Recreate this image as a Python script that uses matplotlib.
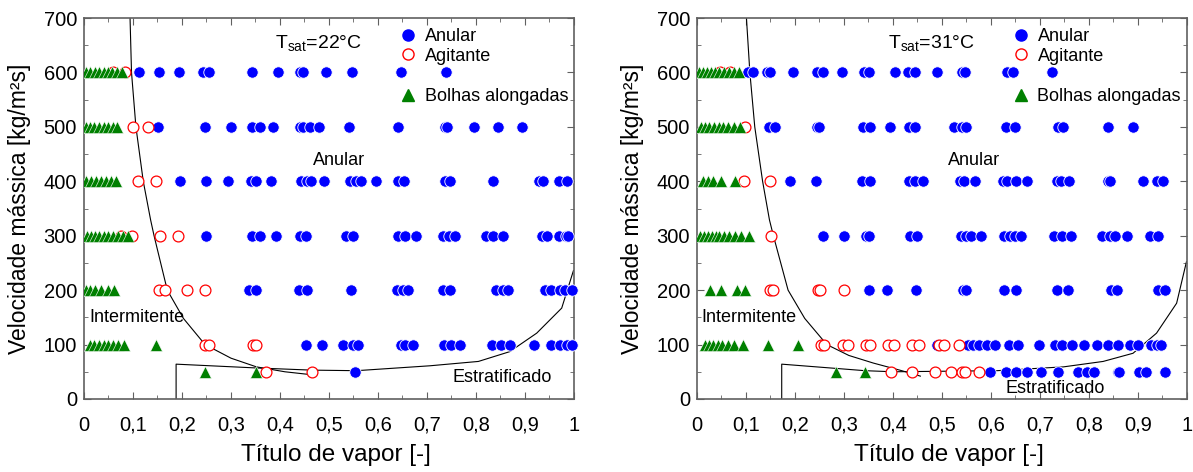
import matplotlib
matplotlib.use("Agg")
import matplotlib.pyplot as plt
from matplotlib.ticker import MultipleLocator, FuncFormatter
from matplotlib.lines import Line2D

plt.rcParams['font.family'] = ['Liberation Sans', 'DejaVu Sans']
plt.rcParams['mathtext.fontset'] = 'custom'
plt.rcParams['mathtext.rm'] = 'Liberation Sans'
plt.rcParams['mathtext.it'] = 'Liberation Sans:italic'

# ---- dados Tsat = 22 C  (titulo de vapor por velocidade massica) ----
anular_22 = {
    600: [0.113, 0.154, 0.194, 0.243, 0.256, 0.343, 0.396, 0.441, 0.448, 0.494, 0.548, 0.647, 0.739],
    500: [0.152, 0.246, 0.300, 0.343, 0.359, 0.385, 0.441, 0.446, 0.461, 0.479, 0.541, 0.640, 0.737,
          0.740, 0.795, 0.844, 0.893],
    400: [0.195, 0.249, 0.293, 0.340, 0.351, 0.382, 0.443, 0.456, 0.463, 0.490, 0.543, 0.556, 0.565,
          0.596, 0.640, 0.653, 0.737, 0.748, 0.835, 0.929, 0.937, 0.970, 0.985],
    300: [0.249, 0.342, 0.359, 0.392, 0.441, 0.454, 0.534, 0.550, 0.641, 0.655, 0.677, 0.733, 0.744,
          0.757, 0.820, 0.835, 0.856, 0.935, 0.944, 0.969, 0.983, 0.988],
    200: [0.337, 0.351, 0.438, 0.456, 0.544, 0.638, 0.652, 0.662, 0.733, 0.748, 0.840, 0.856, 0.866,
          0.941, 0.954, 0.971, 0.982, 0.995],
    100: [0.453, 0.486, 0.528, 0.550, 0.560, 0.647, 0.655, 0.672, 0.735, 0.750, 0.767, 0.832, 0.852,
          0.869, 0.919, 0.954, 0.971, 0.985, 0.997],
    50: [0.554],
}
agitante_22 = {
    600: [0.060, 0.084],
    500: [0.101, 0.131],
    400: [0.111, 0.147],
    300: [0.075, 0.097, 0.156, 0.191],
    200: [0.153, 0.165, 0.211, 0.247],
    100: [0.246, 0.256, 0.344, 0.351],
    50: [0.371, 0.466],
}
bolhas_22 = {
    600: [0.005, 0.013, 0.022, 0.030, 0.040, 0.048, 0.058, 0.068, 0.078],
    500: [0.005, 0.012, 0.020, 0.030, 0.040, 0.050, 0.060, 0.068],
    400: [0.005, 0.014, 0.024, 0.035, 0.045, 0.055, 0.065],
    300: [0.006, 0.014, 0.022, 0.030, 0.040, 0.050, 0.060, 0.070, 0.080, 0.090],
    200: [0.005, 0.012, 0.022, 0.035, 0.048, 0.062],
    100: [0.012, 0.020, 0.030, 0.040, 0.050, 0.060, 0.070, 0.082, 0.147],
    50: [0.246, 0.352],
}
# curvas de transicao
trans_22_x = [0.092, 0.094, 0.097, 0.106, 0.121, 0.136, 0.143, 0.170, 0.203, 0.247, 0.300, 0.352, 0.410, 0.470]
trans_22_g = [720, 700, 600, 500, 400, 329, 300, 200, 148, 100, 75, 59, 50, 44]
strat_22_x = [0.188, 0.188, 0.352, 0.466, 0.556, 0.706, 0.805, 0.869, 0.924, 0.975, 0.999]
strat_22_g = [0, 64, 57, 53, 52, 61, 69, 87, 121, 167, 236]

# ---- dados Tsat = 31 C ----
anular_31 = {
    600: [0.105, 0.114, 0.143, 0.150, 0.197, 0.244, 0.257, 0.297, 0.341, 0.352, 0.405, 0.431, 0.445,
          0.490, 0.540, 0.547, 0.633, 0.646, 0.724],
    500: [0.148, 0.159, 0.244, 0.250, 0.338, 0.353, 0.394, 0.433, 0.445, 0.524, 0.540, 0.550, 0.631,
          0.649, 0.737, 0.748, 0.838, 0.890],
    400: [0.190, 0.243, 0.336, 0.354, 0.433, 0.445, 0.461, 0.537, 0.545, 0.567, 0.624, 0.632, 0.651,
          0.674, 0.734, 0.744, 0.760, 0.839, 0.843, 0.910, 0.938, 0.952],
    300: [0.257, 0.301, 0.346, 0.352, 0.435, 0.450, 0.538, 0.550, 0.559, 0.579, 0.627, 0.639, 0.649,
          0.661, 0.729, 0.746, 0.763, 0.826, 0.843, 0.853, 0.877, 0.924, 0.941],
    200: [0.351, 0.388, 0.448, 0.543, 0.550, 0.627, 0.652, 0.734, 0.758, 0.846, 0.857, 0.941, 0.955],
    100: [0.489, 0.554, 0.564, 0.576, 0.592, 0.608, 0.637, 0.656, 0.699, 0.731, 0.746, 0.765, 0.790,
          0.816, 0.839, 0.860, 0.884, 0.901, 0.926, 0.938, 0.947],
    50: [0.598, 0.631, 0.651, 0.673, 0.703, 0.736, 0.777, 0.797, 0.811, 0.859, 0.862, 0.903, 0.916, 0.955],
}
agitante_31 = {
    600: [0.047, 0.067],
    500: [0.098],
    400: [0.097, 0.149],
    300: [0.151],
    200: [0.149, 0.156, 0.248, 0.252, 0.301],
    100: [0.254, 0.259, 0.299, 0.309, 0.346, 0.353, 0.390, 0.403, 0.438, 0.454, 0.493, 0.504, 0.535],
    50: [0.397, 0.439, 0.486, 0.518, 0.540, 0.547, 0.576],
}
bolhas_31 = {
    600: [0.004, 0.012, 0.020, 0.028, 0.036, 0.046, 0.056, 0.066, 0.076, 0.086],
    500: [0.008, 0.016, 0.024, 0.034, 0.044, 0.054, 0.064, 0.076, 0.088],
    400: [0.013, 0.022, 0.033, 0.050, 0.078],
    300: [0.006, 0.014, 0.022, 0.030, 0.038, 0.046, 0.056, 0.066, 0.078, 0.090, 0.107],
    200: [0.027, 0.050, 0.082, 0.098],
    100: [0.016, 0.024, 0.032, 0.042, 0.052, 0.064, 0.076, 0.094, 0.146, 0.207],
    50: [0.284, 0.343],
}
trans_31_x = [0.099, 0.101, 0.108, 0.118, 0.134, 0.148, 0.156, 0.186, 0.220, 0.265, 0.310, 0.360, 0.418, 0.456]
trans_31_g = [720, 700, 600, 500, 400, 329, 300, 200, 148, 100, 80, 66, 52, 42]
strat_31_x = [0.173, 0.173, 0.343, 0.401, 0.612, 0.748, 0.829, 0.890, 0.938, 0.979, 0.999]
strat_31_g = [0, 64, 52, 50, 52, 59, 69, 84, 121, 176, 252]


def virgula(v, pos):
    s = ('%.1f' % v).rstrip('0').rstrip('.')
    return s.replace('.', ',')


def painel(ax, anular, agitante, bolhas, tx, tg, sx, sg, tsat, pos_anular, pos_est):
    for g, xs in anular.items():
        ax.plot(xs, [g] * len(xs), 'o', color='blue', ms=8.2, mec='white', mew=0.6, clip_on=False, zorder=3)
    for g, xs in agitante.items():
        ax.plot(xs, [g] * len(xs), 'o', mfc='white', mec='red', ms=7.8, mew=0.9, zorder=4)
    for g, xs in bolhas.items():
        ax.plot(xs, [g] * len(xs), '^', color='green', ms=8.2, mec='white', mew=0.4, zorder=5)

    ax.plot(tx, tg, color='black', lw=0.8, zorder=2)
    ax.plot(sx, sg, color='black', lw=0.8, zorder=2)

    ax.set_xlim(0, 1)
    ax.set_ylim(0, 700)
    ax.xaxis.set_major_locator(MultipleLocator(0.1))
    ax.xaxis.set_minor_locator(MultipleLocator(0.05))
    ax.yaxis.set_major_locator(MultipleLocator(100))
    ax.yaxis.set_minor_locator(MultipleLocator(50))
    ax.xaxis.set_major_formatter(FuncFormatter(virgula))
    ax.tick_params(which='both', direction='in', top=True, right=True, labelsize=14.5,
                   color='#606060')
    ax.tick_params(which='major', length=5)
    ax.tick_params(which='minor', length=3)
    ax.tick_params(axis='x', which='major', pad=12)
    ax.tick_params(axis='y', which='major', pad=5)
    for sp in ax.spines.values():
        sp.set_color('#606060')
        sp.set_linewidth(1.2)

    ax.set_xlabel('Título de vapor [-]', fontsize=17.5, labelpad=7)
    ax.xaxis.label.set_x(0.514)
    ax.set_ylabel('Velocidade mássica [kg/m²s]', fontsize=16.5, labelpad=9)

    ax.text(0.39, 654, r'T$_{\mathrm{sat}}$=' + tsat, fontsize=14, va='center')
    ax.text(pos_anular[0], pos_anular[1], 'Anular', fontsize=13, va='center')
    ax.text(0.01, 149, 'Intermitente', fontsize=13, va='center')
    ax.text(pos_est[0], pos_est[1], 'Estratificado', fontsize=13, va='center')

    h1 = [Line2D([], [], ls='', marker='o', color='blue', ms=8),
          Line2D([], [], ls='', marker='o', mfc='white', mec='red', ms=8)]
    leg1 = ax.legend(h1, ['Anular', 'Agitante'], loc='upper left', bbox_to_anchor=(0.625, 0.993),
                     frameon=False, fontsize=13, handletextpad=0.3, labelspacing=0.15,
                     handlelength=1.2, borderaxespad=0)
    ax.add_artist(leg1)
    h2 = [Line2D([], [], ls='', marker='^', color='green', ms=8)]
    ax.legend(h2, ['Bolhas alongadas'], loc='upper left', bbox_to_anchor=(0.625, 0.835),
              frameon=False, fontsize=13, handletextpad=0.3, handlelength=1.2, borderaxespad=0)


fig = plt.figure(figsize=(11.93, 4.72), dpi=100)
ax1 = fig.add_axes([0.0704, 0.1547, 0.4107, 0.807])
ax2 = fig.add_axes([0.5842, 0.1547, 0.4107, 0.807])

painel(ax1, anular_22, agitante_22, bolhas_22, trans_22_x, trans_22_g, strat_22_x, strat_22_g,
       '22°C', (0.467, 439), (0.753, 39))
painel(ax2, anular_31, agitante_31, bolhas_31, trans_31_x, trans_31_g, strat_31_x, strat_31_g,
       '31°C', (0.512, 439), (0.629, 20))

fig.savefig('out.png', dpi=100)
